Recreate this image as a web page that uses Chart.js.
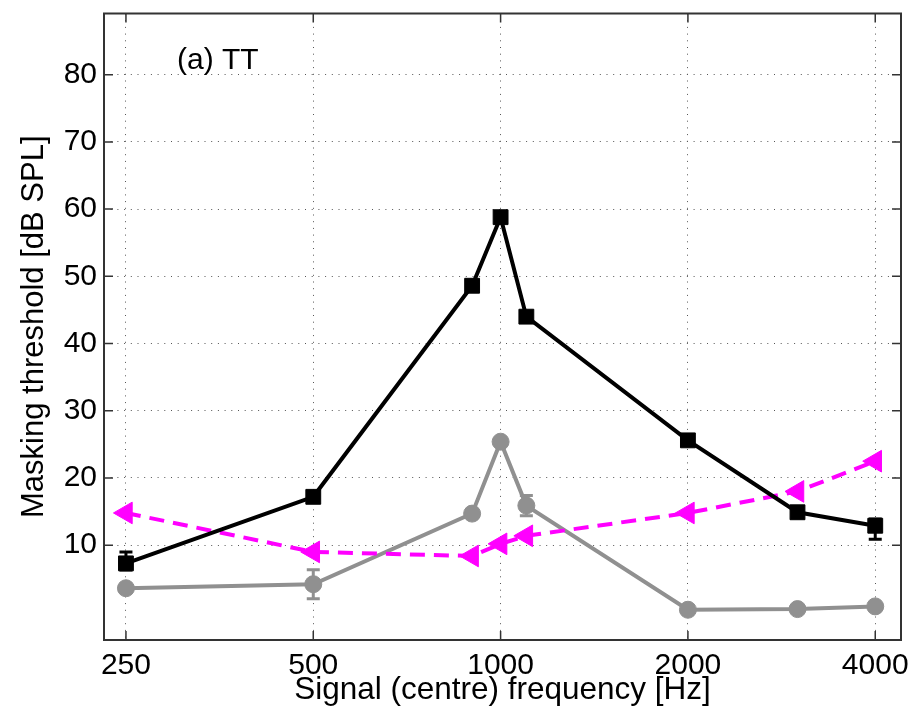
<!DOCTYPE html>
<html>
<head>
<meta charset="utf-8">
<script src="https://cdn.jsdelivr.net/npm/chart.js@4/dist/chart.umd.min.js"></script>
<style>
  html, body { margin: 0; padding: 0; background: #fff; }
  #wrap { width: 922px; height: 716px; }
</style>
</head>
<body>
<div id="wrap"><canvas id="c" width="922" height="716"></canvas></div>
<script>
// ---- data ----
const xTicks = [250, 500, 1000, 2000, 4000];
const yTicks = [10, 20, 30, 40, 50, 60, 70, 80];

const blackFreq = [250, 500, 900, 1000, 1100, 2000, 3000, 4000];
const blackVals = [7.3, 17.2, 48.6, 58.8, 44.0, 25.6, 14.9, 12.9];
const blackErrLow  = [1.0, 0.4, 0.4, 0.4, 0.4, 0.4, 0.4, 2.0];
const blackErrHigh = [1.7, 0.4, 0.4, 0.4, 0.4, 0.4, 0.4, 1.0];

const grayFreq = [250, 500, 900, 1000, 1100, 2000, 3000, 4000];
const grayVals = [3.6, 4.2, 14.7, 25.4, 15.9, 0.4, 0.5, 0.9];
const grayErrLow  = [0.5, 2.15, 0.5, 0.5, 1.5, 0.4, 0.4, 0.4];
const grayErrHigh = [0.5, 2.15, 0.5, 0.5, 1.5, 0.4, 0.4, 0.4];

const magFreq = [250, 500, 900, 1000, 1100, 2000, 3000, 4000];
const magVals = [14.8, 9.0, 8.4, 10.2, 11.4, 14.8, 18.0, 22.5];

const xLabel = 'Signal (centre) frequency [Hz]';
const yLabel = 'Masking threshold [dB SPL]';
const panelLabel = '(a) TT';

const FONT = "'Liberation Sans', Arial, Helvetica, sans-serif";

function pts(xs, ys) { return xs.map((x, i) => ({ x: x, y: ys[i] })); }

const errorSets = [
  { freq: blackFreq, vals: blackVals, lo: blackErrLow, hi: blackErrHigh, color: '#000000' },
  { freq: grayFreq, vals: grayVals, lo: grayErrLow, hi: grayErrHigh, color: '#909090' }
];

const decorPlugin = {
  id: 'decor',
  beforeDatasetsDraw(chart) {
    const ctx = chart.ctx, xs = chart.scales.x, ys = chart.scales.y;
    ctx.save();
    ctx.lineWidth = 3;
    errorSets.forEach(s => {
      ctx.strokeStyle = s.color;
      s.freq.forEach((f, i) => {
        const px = xs.getPixelForValue(f);
        const yTop = ys.getPixelForValue(s.vals[i] + s.hi[i]);
        const yBot = ys.getPixelForValue(s.vals[i] - s.lo[i]);
        ctx.beginPath();
        ctx.moveTo(px, yTop); ctx.lineTo(px, yBot);
        ctx.moveTo(px - 6.5, yTop); ctx.lineTo(px + 6.5, yTop);
        ctx.moveTo(px - 6.5, yBot); ctx.lineTo(px + 6.5, yBot);
        ctx.stroke();
      });
    });
    ctx.restore();
  },
  afterDraw(chart) {
    const ctx = chart.ctx, a = chart.chartArea, xs = chart.scales.x, ys = chart.scales.y;
    ctx.save();
    // inward tick marks
    ctx.strokeStyle = '#333';
    ctx.lineWidth = 1.5;
    const tl = 9;
    ctx.beginPath();
    xTicks.forEach(v => {
      const px = xs.getPixelForValue(v);
      ctx.moveTo(px, a.bottom); ctx.lineTo(px, a.bottom - tl);
      ctx.moveTo(px, a.top); ctx.lineTo(px, a.top + tl);
    });
    yTicks.forEach(v => {
      const py = ys.getPixelForValue(v);
      ctx.moveTo(a.left, py); ctx.lineTo(a.left + tl, py);
      ctx.moveTo(a.right, py); ctx.lineTo(a.right - tl, py);
    });
    ctx.stroke();
    // frame
    ctx.strokeStyle = '#333';
    ctx.lineWidth = 2;
    ctx.strokeRect(a.left, a.top, a.right - a.left, a.bottom - a.top);
    // panel label
    ctx.fillStyle = '#000';
    ctx.font = '30px ' + FONT;
    ctx.textAlign = 'left';
    ctx.textBaseline = 'alphabetic';
    ctx.fillText(panelLabel, xs.getPixelForValue(302), ys.getPixelForValue(80.8));
    ctx.restore();
  }
};

new Chart(document.getElementById('c'), {
  type: 'scatter',
  data: {
    datasets: [
      {
        data: pts(blackFreq, blackVals),
        showLine: true,
        borderColor: '#000000',
        borderWidth: 4,
        pointStyle: 'rect',
        pointRadius: 10.5,
        pointBackgroundColor: '#000000',
        pointBorderColor: '#000000',
        pointBorderWidth: 1
      },
      {
        data: pts(magFreq, magVals),
        showLine: true,
        borderColor: '#ff00ff',
        borderWidth: 4,
        borderDash: [15, 9],
        pointStyle: 'triangle',
        pointRotation: -90,
        pointRadius: 12.5,
        pointBackgroundColor: '#ff00ff',
        pointBorderColor: '#ff00ff',
        pointBorderWidth: 1
      },
      {
        data: pts(grayFreq, grayVals),
        showLine: true,
        borderColor: '#909090',
        borderWidth: 4,
        pointStyle: 'circle',
        pointRadius: 8.5,
        pointBackgroundColor: '#909090',
        pointBorderColor: '#909090',
        pointBorderWidth: 1
      }
    ]
  },
  options: {
    responsive: false,
    animation: false,
    devicePixelRatio: 1,
    layout: { padding: { left: 0, right: 21, top: 9, bottom: 0 } },
    plugins: { legend: { display: false }, tooltip: { enabled: false } },
    scales: {
      x: {
        type: 'logarithmic',
        min: 230.5,
        max: 4400,
        afterBuildTicks: s => { s.ticks = xTicks.map(v => ({ value: v })); },
        afterFit: s => { s.height = 76; s.paddingLeft = 0; s.paddingRight = 0; },
        ticks: {
          callback: v => String(v),
          font: { size: 30, family: FONT },
          color: '#000',
          padding: 8,
          maxRotation: 0,
          autoSkip: false
        },
        grid: { color: '#555', lineWidth: 1, drawTicks: false },
        border: { display: false, dash: [1, 5.7] },
        title: {
          display: true, text: xLabel, color: '#000',
          font: { size: 31.5, family: FONT },
          padding: { top: 0, bottom: 7 }
        }
      },
      y: {
        type: 'linear',
        min: -4.1,
        max: 89.1,
        afterBuildTicks: s => { s.ticks = yTicks.map(v => ({ value: v })); },
        afterFit: s => { s.width = 104; s.paddingTop = 0; s.paddingBottom = 0; },
        ticks: {
          callback: v => String(v),
          font: { size: 30, family: FONT },
          color: '#000',
          padding: 7
        },
        grid: { color: '#555', lineWidth: 1, drawTicks: false },
        border: { display: false, dash: [1, 5.7] },
        title: {
          display: true, text: yLabel, color: '#000',
          font: { size: 31, family: FONT },
          padding: { top: 16, bottom: 0 }
        }
      }
    }
  },
  plugins: [decorPlugin]
});
</script>
</body>
</html>
